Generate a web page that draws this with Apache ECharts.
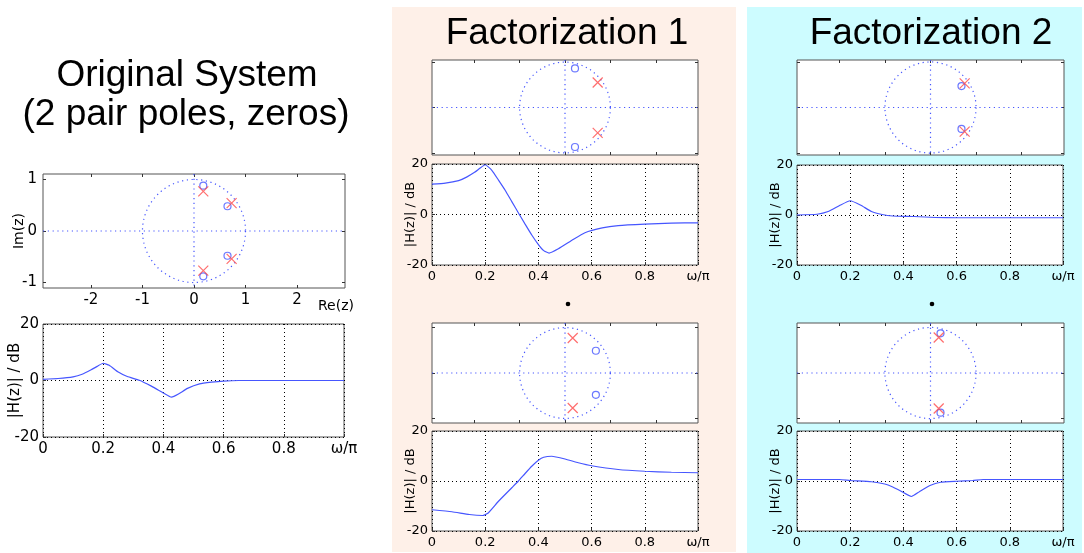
<!DOCTYPE html>
<html>
<head>
<meta charset="utf-8">
<script src="https://cdn.jsdelivr.net/npm/echarts@6/dist/echarts.min.js"></script>
<style>
  html, body { margin: 0; background: #fff; }
  #chart { width: 1084px; height: 553px; }
</style>
</head>
<body>
<div id="chart"></div>
<script>
// poles / zeros, [Re, Im]
const origZeros = [[0.18, 0.88], [0.18, -0.88], [0.65, 0.48], [0.65, -0.48]];
const origPoles = [[0.18, 0.77], [0.18, -0.77], [0.73, 0.54], [0.73, -0.54]];
const f1aZeros = [[0.22, 0.86], [0.22, -0.87]];
const f1aPoles = [[0.72, 0.55], [0.72, -0.56]];
const f1bZeros = [[0.68, 0.49], [0.68, -0.48]];
const f1bPoles = [[0.17, 0.77], [0.17, -0.77]];
const f2aZeros = [[0.68, 0.47], [0.68, -0.47]];
const f2aPoles = [[0.75, 0.53], [0.75, -0.53]];
const f2bZeros = [[0.22, 0.87], [0.22, -0.87]];
const f2bPoles = [[0.18, 0.78], [0.18, -0.78]];
const unitCircle = [[0, 0, 1]]; // centre re, centre im, radius

// magnitude responses, [omega/pi, dB]
const origMag = [[0, 0.4], [0.05, 0.7], [0.1, 1.3], [0.13, 2.2], [0.16, 3.8], [0.18, 5.0], [0.2, 6.1],
  [0.22, 5.4], [0.25, 3.0], [0.28, 1.4], [0.32, 0.1], [0.36, -2.0], [0.4, -4.4], [0.427, -5.9],
  [0.45, -4.8], [0.48, -2.8], [0.52, -1.2], [0.56, -0.6], [0.6, -0.2], [0.65, 0], [0.8, 0], [1, 0]];
const f1aMag = [[0, 12], [0.05, 12.4], [0.1, 13.4], [0.13, 14.8], [0.16, 16.7], [0.18, 18.3], [0.2, 19.7],
  [0.225, 17.5], [0.25, 13.6], [0.275, 9.6], [0.3, 5.1], [0.325, 0.6], [0.35, -3.8], [0.375, -8.1],
  [0.4, -11.9], [0.42, -14.3], [0.44, -15.3], [0.475, -13.6], [0.525, -10.3], [0.575, -7.2],
  [0.64, -5.3], [0.7, -4.4], [0.8, -3.8], [0.9, -3.4], [1, -3.3]];
const f1bMag = [[0, -11.5], [0.075, -12.3], [0.14, -13.4], [0.19, -13.8], [0.21, -12.9], [0.25, -8.1],
  [0.3, -2.7], [0.325, 0], [0.35, 3.0], [0.375, 5.9], [0.4, 8.3], [0.42, 9.5], [0.45, 9.9],
  [0.5, 8.8], [0.55, 7.3], [0.6, 6.1], [0.7, 4.6], [0.8, 3.9], [0.9, 3.5], [1, 3.3]];
const f2aMag = [[0, 0], [0.075, 0.3], [0.12, 1.5], [0.16, 3.8], [0.2, 5.7], [0.24, 3.9], [0.28, 1.4],
  [0.32, 0.2], [0.36, -0.4], [0.44, -0.6], [0.52, -1.0], [0.6, -1.1], [1, -1.1]];
const f2bMag = [[0, 0.6], [0.16, 0.6], [0.2, 0.2], [0.28, -0.3], [0.33, -1.2], [0.36, -2.4], [0.39, -4],
  [0.43, -6.2], [0.46, -4.3], [0.5, -1.8], [0.54, -0.5], [0.6, -0.1], [0.66, 0.2], [0.7, 0.6], [1, 0.6]];

const reTicks = [-2, -1, 0, 1, 2];
const imTicks = [-1, 0, 1];

const BLUE = '#4656ff';
const RED = '#ff4a4a';
const CROSS = 'path://M0,0L10,10M10,0L0,10';
const FONT = 'DejaVu Sans';
const DOTS = [1, 3];

const grids = [], xAxes = [], yAxes = [], series = [];

function addGrid(r) {
  grids.push({
    left: r[0], top: r[1], width: r[2], height: r[3],
    show: true, backgroundColor: '#fff', borderColor: '#555', borderWidth: 1
  });
  return grids.length - 1;
}

// z-plane plot: unit circle, dotted axes, o = zeros, x = poles
function zplane(r, zeros, poles, labels) {
  const g = addGrid(r);
  const ymax = r[3] / 2 / (r[2] / 5.86); // keep aspect 1:1
  const xi = xAxes.length, yi = yAxes.length;
  ['bottom', 'top'].forEach((pos, k) => xAxes.push({
    gridIndex: g, type: 'value', position: pos, min: -2.93, max: 2.93,
    axisLine: {show: false, onZero: false},
    axisTick: {inside: true, length: 3, customValues: reTicks, lineStyle: {color: '#333'}},
    axisLabel: {show: labels && k === 0, customValues: reTicks, fontSize: 15, margin: 5,
      color: '#000', fontFamily: FONT},
    splitLine: {show: false}
  }));
  ['left', 'right'].forEach((pos, k) => yAxes.push({
    gridIndex: g, type: 'value', position: pos, min: -ymax, max: ymax,
    name: labels && k === 0 ? 'Im(z)' : '', nameLocation: 'middle', nameGap: 17,
    nameMoveOverlap: false,
    nameTextStyle: {fontSize: 14, color: '#000', fontFamily: FONT},
    axisLine: {show: false, onZero: false},
    axisTick: {inside: true, length: 3, customValues: imTicks, lineStyle: {color: '#333'}},
    axisLabel: {show: labels && k === 0, customValues: imTicks, fontSize: 15, margin: 6,
      color: '#000', fontFamily: FONT},
    splitLine: {show: false}
  }));
  // unit circle plus the dotted real / imaginary axes through its centre
  series.push({
    type: 'custom', xAxisIndex: xi, yAxisIndex: yi, data: unitCircle, silent: true,
    renderItem(params, api) {
      const c = api.coord([api.value(0), api.value(1)]);
      const s = api.size([api.value(2), api.value(2)]);
      const box = params.coordSys;
      const dots = {fill: 'none', stroke: BLUE, lineWidth: 1.2, lineDash: [1.2, 3.6]};
      return {
        type: 'group',
        children: [
          {type: 'circle', shape: {cx: c[0], cy: c[1], r: (s[0] + s[1]) / 2}, style: dots},
          {type: 'line', shape: {x1: box.x, y1: c[1], x2: box.x + box.width, y2: c[1]}, style: dots},
          {type: 'line', shape: {x1: c[0], y1: box.y, x2: c[0], y2: box.y + box.height}, style: dots}
        ]
      };
    }
  });
  series.push({
    type: 'scatter', xAxisIndex: xi, yAxisIndex: yi, data: zeros, silent: true,
    symbol: 'circle', symbolSize: 7,
    itemStyle: {color: 'rgba(0,0,0,0)', borderColor: BLUE, borderWidth: 1.2}
  });
  series.push({
    type: 'scatter', xAxisIndex: xi, yAxisIndex: yi, data: poles, silent: true,
    symbol: CROSS, symbolSize: 10,
    itemStyle: {color: 'rgba(0,0,0,0)', borderColor: RED, borderWidth: 1.2}
  });
}

// magnitude response in dB over omega/pi
function magPlot(r, data, fs, gap) {
  const g = addGrid(r);
  const xi = xAxes.length, yi = yAxes.length;
  xAxes.push({
    gridIndex: g, type: 'value', min: 0, max: 1, interval: 0.2,
    axisLine: {show: false, onZero: false},
    axisTick: {inside: true, length: 3, lineStyle: {color: '#333'}},
    axisLabel: {
      fontSize: fs, margin: 5, color: '#000', fontFamily: FONT, showMinLabel: true, showMaxLabel: true,
      formatter: v => v > 0.99 ? 'ω/π' : String(Math.round(v * 10) / 10)
    },
    splitLine: {lineStyle: {type: DOTS, color: '#000'}}
  });
  yAxes.push({
    gridIndex: g, type: 'value', min: -20, max: 20, interval: 20,
    name: '|H(z)| / dB', nameLocation: 'middle', nameGap: gap, nameMoveOverlap: false,
    nameTextStyle: {fontSize: fs, color: '#000', fontFamily: FONT},
    axisLine: {show: false, onZero: false},
    axisTick: {inside: true, length: 3, lineStyle: {color: '#333'}},
    axisLabel: {fontSize: fs, margin: 4, color: '#000', fontFamily: FONT},
    splitLine: {lineStyle: {type: DOTS, color: '#000'}}
  });
  series.push({
    type: 'line', xAxisIndex: xi, yAxisIndex: yi, data: data, silent: true,
    showSymbol: false, smooth: 0.15, lineStyle: {color: BLUE, width: 1.2}
  });
}

zplane([43, 174, 302, 114], origZeros, origPoles, true);
magPlot([43, 324, 301, 113], origMag, 15, 20);

zplane([432, 60, 266, 95], f1aZeros, f1aPoles, false);
magPlot([432, 164, 266, 101], f1aMag, 13, 15);
zplane([432, 323, 266, 100], f1bZeros, f1bPoles, false);
magPlot([432, 431, 266, 100], f1bMag, 13, 15);

zplane([797, 60, 267, 95], f2aZeros, f2aPoles, false);
magPlot([797, 165, 266, 100], f2aMag, 13, 15);
zplane([797, 323, 267, 100], f2bZeros, f2bPoles, false);
magPlot([797, 431, 266, 100], f2bMag, 13, 15);

function title(text, x, y) {
  return {type: 'text', x: x, y: y, silent: true,
    style: {text: text, fontSize: 37, fontFamily: 'Liberation Sans', fill: '#000',
      align: 'center', verticalAlign: 'middle'}};
}

const chart = echarts.init(document.getElementById('chart'));
chart.setOption({
  animation: false,
  backgroundColor: '#fff',
  graphic: [
    {type: 'rect', z: -10, silent: true, shape: {x: 392, y: 7, width: 344, height: 545}, style: {fill: '#fef0e8'}},
    {type: 'rect', z: -10, silent: true, shape: {x: 747, y: 7, width: 335, height: 546}, style: {fill: '#cdfcff'}},
    title('Original System', 187, 76),
    title('(2 pair poles, zeros)', 186, 115),
    title('Factorization 1', 567, 34),
    title('Factorization 2', 931, 34),
    {type: 'text', x: 318, y: 299, silent: true,
      style: {text: 'Re(z)', fontSize: 14, fontFamily: FONT, fill: '#000'}},
    {type: 'circle', silent: true, shape: {cx: 568, cy: 304, r: 2.3}, style: {fill: '#000'}},
    {type: 'circle', silent: true, shape: {cx: 932, cy: 304, r: 2.3}, style: {fill: '#000'}}
  ],
  grid: grids,
  xAxis: xAxes,
  yAxis: yAxes,
  series: series
});
</script>
</body>
</html>
